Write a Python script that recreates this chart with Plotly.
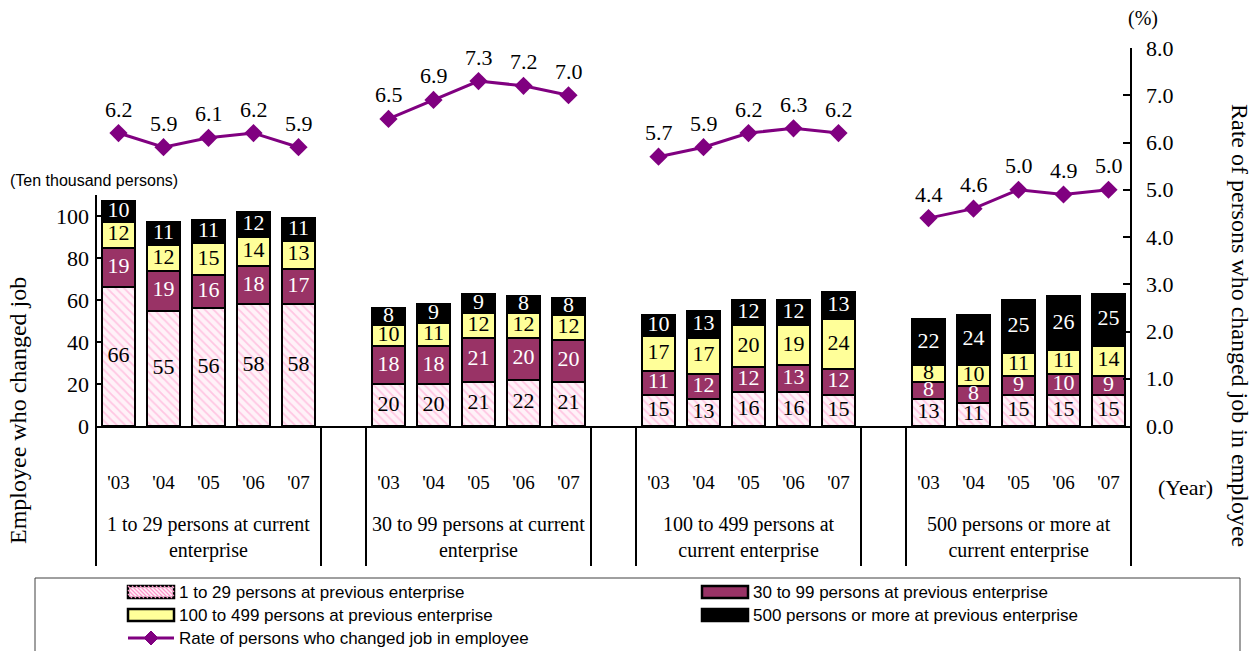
import plotly.graph_objects as go

# ---- data -------------------------------------------------------------
years = ["'03", "'04", "'05", "'06", "'07"]
groups = [
    "1 to 29 persons at current<br>enterprise",
    "30 to 99 persons at current<br>enterprise",
    "100 to 499 persons at<br>current enterprise",
    "500 persons or more at<br>current enterprise",
]
series_names = [
    "1 to 29 persons at previous enterprise",
    "30 to 99 persons at previous enterprise",
    "100 to 499 persons at previous enterprise",
    "500 persons or more at previous enterprise",
]
rate_name = "Rate of persons who changed job in employee"

prev_1_29 = [[66, 55, 56, 58, 58], [20, 20, 21, 22, 21], [15, 13, 16, 16, 15], [13, 11, 15, 15, 15]]
prev_30_99 = [[19, 19, 16, 18, 17], [18, 18, 21, 20, 20], [11, 12, 12, 13, 12], [8, 8, 9, 10, 9]]
prev_100_499 = [[12, 12, 15, 14, 13], [10, 11, 12, 12, 12], [17, 17, 20, 19, 24], [8, 10, 11, 11, 14]]
prev_500 = [[10, 11, 11, 12, 11], [8, 9, 9, 8, 8], [10, 13, 12, 12, 13], [22, 24, 25, 26, 25]]
rate = [[6.2, 5.9, 6.1, 6.2, 5.9], [6.5, 6.9, 7.3, 7.2, 7.0],
        [5.7, 5.9, 6.2, 6.3, 6.2], [4.4, 4.6, 5.0, 4.9, 5.0]]

left_ticks = [0, 20, 40, 60, 80, 100]
right_ticks = [0, 1, 2, 3, 4, 5, 6, 7, 8]

# ---- layout geometry (pixels) ------------------------------------------
WIDTH, HEIGHT = 1257, 651
L, R, T, B = 96, 1131, 48, 426
PW, PH = R - L, B - T
SERIF = "Liberation Serif"
SANS = "Liberation Sans"
PURPLE = "#800080"
COLORS = ["#fff2f8", "#993366", "#ffff99", "#000000"]
TEXT_COLORS = ["black", "white", "black", "white"]


def px(x):
    return (x - L) / PW


def py(y):
    return (B - y) / PH


n = len(years)
slot = n + 1                      # one empty slot between enterprise groups
n_slots = len(groups) * slot - 1
x_min, x_max = -0.5, n_slots - 0.5


def xpaper(v):
    return (v - x_min) / (x_max - x_min)


xs = [g * slot + i for g in range(len(groups)) for i in range(n)]


def flat(a):
    return [v for row in a for v in row]


stack = [flat(prev_1_29), flat(prev_30_99), flat(prev_100_499), flat(prev_500)]

fig = go.Figure()

# stacked bars
base = [0] * len(xs)
for k, vals in enumerate(stack):
    marker = dict(color=COLORS[k], line=dict(color="black", width=2))
    if k == 0:
        marker["pattern"] = dict(shape="\\", fgcolor="#ff99cc", bgcolor="#fff2f8",
                                 size=6, solidity=0.3)
    fig.add_trace(go.Bar(x=xs, y=vals, base=base, width=0.73, marker=marker,
                         name=series_names[k], showlegend=False, yaxis="y"))
    mids = [b + v / 2 for b, v in zip(base, vals)]
    fig.add_trace(go.Scatter(x=xs, y=mids, mode="text", text=[str(v) for v in vals],
                             textfont=dict(family=SERIF, size=22, color=TEXT_COLORS[k]),
                             showlegend=False, cliponaxis=False, yaxis="y"))
    base = [b + v for b, v in zip(base, vals)]

# rate line, broken between groups
rx, ry = [], []
for g in range(len(groups)):
    for i in range(n):
        rx.append(g * slot + i)
        ry.append(rate[g][i])
    rx.append(None)
    ry.append(None)
fig.add_trace(go.Scatter(x=rx, y=ry, mode="lines+markers", name=rate_name,
                         line=dict(color=PURPLE, width=3),
                         marker=dict(symbol="diamond", size=14, color=PURPLE),
                         showlegend=False, cliponaxis=False, yaxis="y2"))

annotations = []
for x, v in zip(xs, flat(rate)):
    annotations.append(dict(x=x, y=v, xref="x", yref="y2", text=f"{v:.1f}",
                            showarrow=False, yshift=24, xanchor="center", yanchor="middle",
                            font=dict(family=SERIF, size=22, color="black")))


def note(x, y, text, size, family=SERIF, angle=0, xanchor="center"):
    return dict(x=px(x), y=py(y), xref="paper", yref="paper", text=text,
                textangle=angle, showarrow=False, xanchor=xanchor, yanchor="middle",
                font=dict(family=family, size=size, color="black"))


# group captions
for g, name in enumerate(groups):
    cx = L + xpaper(g * slot + (n - 1) / 2) * PW
    annotations.append(note(cx, 537, name, 20))

# axis titles and units
annotations += [
    note(18, 411, "Employee who changed job", 24, angle=-90),
    note(1240, 325, rate_name, 24, angle=90),
    note(8, 180, "(Ten thousand persons)", 16, family=SANS, xanchor="left"),
    note(1143, 18, "(%)", 20),
    note(1185, 487, "(Year)", 22),
]

shapes = []
line_style = dict(color="black", width=2)
# left axis line, continuing down as the first divider
shapes.append(dict(type="line", xref="paper", yref="paper", x0=0, x1=0,
                   y0=py(566), y1=py(195), line=line_style))
# right axis line
shapes.append(dict(type="line", xref="paper", yref="paper", x0=1, x1=1,
                   y0=py(566), y1=1, line=line_style))
# dividers flanking the gaps between groups
for g in range(len(groups) - 1):
    gap = g * slot + n
    for xv in (gap - 0.5, gap + 0.5):
        shapes.append(dict(type="line", xref="paper", yref="paper", x0=xpaper(xv), x1=xpaper(xv),
                           y0=py(566), y1=0, line=line_style))

# ---- legend (drawn box) -------------------------------------------------
shapes.append(dict(type="rect", xref="paper", yref="paper", x0=px(35), x1=px(1240),
                   y0=py(662), y1=py(578), line=dict(color="#404040", width=1),
                   fillcolor="rgba(0,0,0,0)"))
sw_w, sw_h = 46, 12
cols = [128, 702]
rows = [592, 615, 638]
legend_slots = [(0, 0), (1, 0), (0, 1), (1, 1)]
for k, (c, r) in enumerate(legend_slots):
    x0, yc = cols[c], rows[r]
    shapes.append(dict(type="rect", xref="paper", yref="paper",
                       x0=px(x0), x1=px(x0 + sw_w), y0=py(yc + sw_h / 2), y1=py(yc - sw_h / 2),
                       fillcolor=COLORS[k], line=dict(color="black", width=2.5)))
    if k == 0:
        segs = []
        top, bot = yc - sw_h / 2, yc + sw_h / 2
        c0 = -sw_h
        while c0 < sw_w:
            xa, xb = x0 + c0, x0 + c0 + sw_h
            ya, yb = top, bot
            if xa < x0:
                ya = top + (x0 - xa)
                xa = x0
            if xb > x0 + sw_w:
                yb = bot - (xb - (x0 + sw_w))
                xb = x0 + sw_w
            if xb > xa:
                segs.append(f"M{px(xa)},{py(ya)} L{px(xb)},{py(yb)}")
            c0 += 4
        shapes.append(dict(type="path", xref="paper", yref="paper", path=" ".join(segs),
                           line=dict(color="#ff99cc", width=1.2)))
    annotations.append(note(x0 + sw_w + 3, yc, series_names[k], 17, family=SANS, xanchor="left"))
# rate entry
x0, yc = cols[0], rows[2]
shapes.append(dict(type="line", xref="paper", yref="paper", x0=px(x0), x1=px(x0 + sw_w),
                   y0=py(yc), y1=py(yc), line=dict(color=PURPLE, width=3)))
cx, d = x0 + sw_w / 2, 7
shapes.append(dict(type="path", xref="paper", yref="paper",
                   path=f"M{px(cx - d)},{py(yc)} L{px(cx)},{py(yc - d)} L{px(cx + d)},{py(yc)} "
                        f"L{px(cx)},{py(yc + d)} Z",
                   fillcolor=PURPLE, line=dict(color=PURPLE, width=1)))
annotations.append(note(x0 + sw_w + 3, yc, rate_name, 17, family=SANS, xanchor="left"))

fig.update_layout(
    width=WIDTH, height=HEIGHT,
    margin=dict(l=L, r=WIDTH - R, t=T, b=HEIGHT - B, pad=0),
    paper_bgcolor="white", plot_bgcolor="white",
    barmode="overlay", bargap=0,
    showlegend=False,
    xaxis=dict(range=[x_min, x_max], tickvals=xs, ticktext=years * len(groups),
               showline=True, linecolor="black", linewidth=2, ticks="",
               showgrid=False, zeroline=False, ticklabelstandoff=38,
               tickfont=dict(family=SERIF, size=19, color="black")),
    yaxis=dict(range=[0, 180], tickvals=left_ticks, ticks="inside", ticklen=7,
               tickwidth=2, tickcolor="black", showline=False, showgrid=False,
               zeroline=False, ticklabelstandoff=6,
               tickfont=dict(family=SERIF, size=22, color="black")),
    yaxis2=dict(range=[0, 8], tickvals=right_ticks, tickformat=".1f", overlaying="y",
                side="right", ticks="inside", ticklen=8, tickwidth=2, tickcolor="black",
                showline=False, showgrid=False, zeroline=False, ticklabelstandoff=14,
                tickfont=dict(family=SERIF, size=22, color="black")),
    annotations=annotations,
    shapes=shapes,
)

fig.write_html("out.html")
